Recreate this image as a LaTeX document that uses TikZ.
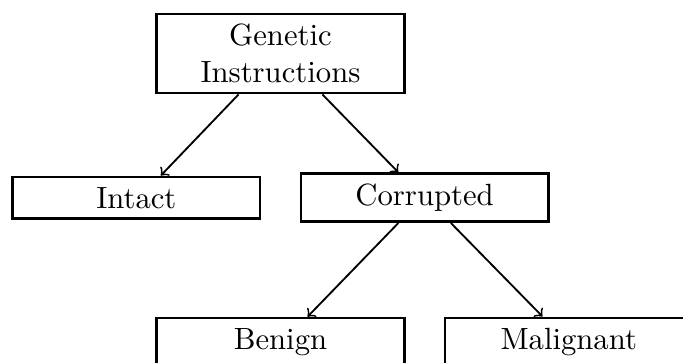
\documentclass[tikz,border=0pt]{standalone}
\usepackage{amsmath, amssymb}
\usepackage{tikz}

\begin{document}
\begin{tikzpicture}[scale=1,
		box/.style={draw, thick, rectangle, text width=2.6cm, align=center},
		arr/.style={->, semithick}]
	% keret
	\useasboundingbox (-3.211,0.613) rectangle (4.608,-3.532);
	
	% dobozok
	\node[box] (gen) at (0,0) {Genetic\\Instructions};
	\node[box] (intact) at (-1.65,-1.65) {Intact};
	\node[box] (corr) at (1.65,-1.65) {Corrupted};
	\node[box] (benign) at (0,-3.3) {Benign};
	\node[box] (malig) at (3.3,-3.3) {Malignant};
	
	% nyilak
	\draw[arr] ([xshift=-0.48cm]gen.south) -- ([xshift=0.28cm]intact.north);
	\draw[arr] ([xshift=0.48cm]gen.south) -- ([xshift=-0.3cm]corr.north);
	\draw[arr] ([xshift=-0.3cm]corr.south) -- ([xshift=0.31cm]benign.north);
	\draw[arr] ([xshift=0.3cm]corr.south) -- ([xshift=-0.3cm]malig.north);
	
\end{tikzpicture}
\end{document}
